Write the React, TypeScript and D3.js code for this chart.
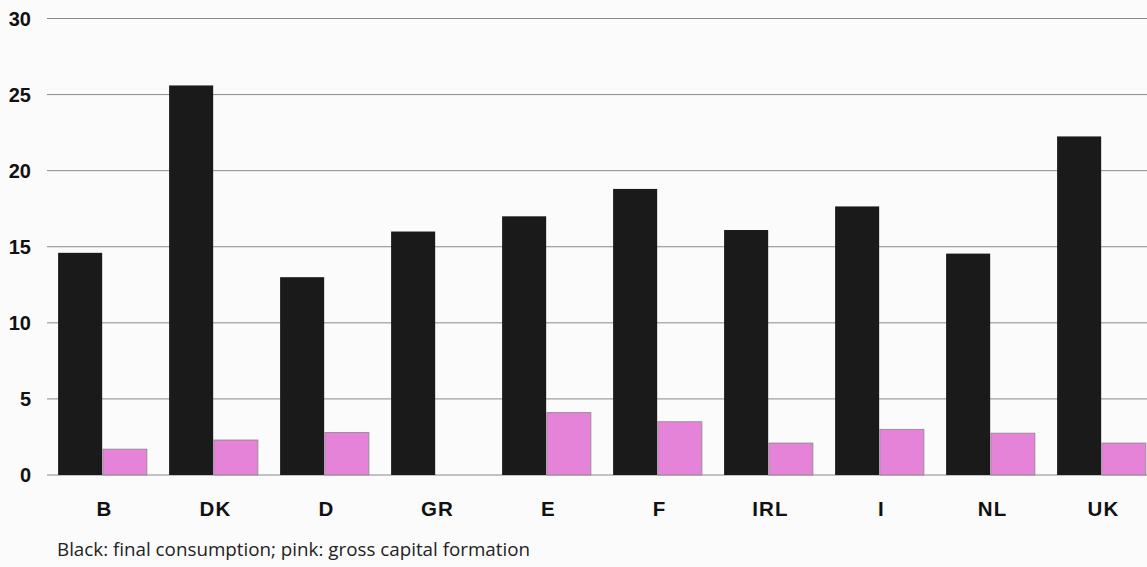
import React from "react";
import * as d3 from "d3";

const categories = ["B", "DK", "D", "GR", "E", "F", "IRL", "I", "NL", "UK"];
const finalConsumption = [14.6, 25.6, 13.0, 16.0, 17.0, 18.8, 16.1, 17.65, 14.55, 22.25];
const grossCapital = [1.7, 2.3, 2.8, 0, 4.1, 3.5, 2.1, 3.0, 2.75, 2.1];
const yTicks = [0, 5, 10, 15, 20, 25, 30];
const caption = "Black: final consumption; pink: gross capital formation";

const W = 1147;
const H = 567;

export default function App() {
  const x = d3.scaleBand<string>().domain(categories).range([47, 1157]).paddingInner(0.2).paddingOuter(0.1);
  const inner = d3.scaleBand<string>().domain(["black", "pink"]).range([0, x.bandwidth()]).paddingInner(0.015);
  const y = d3.scaleLinear().domain([0, 30]).range([475, 18.5]);

  return (
    <svg width={W} height={H} style={{ position: "absolute", left: 0, top: 0 }} fontFamily="Liberation Sans, Arial, sans-serif">
      <rect x={0} y={0} width={W} height={H} fill="#fbfbfb" />
      {yTicks.map((t) => (
        <g key={t}>
          <line x1={47} x2={W} y1={y(t)} y2={y(t)} stroke="#8a8a8a" strokeWidth={1} />
          <text x={31} y={y(t)} dy="0.36em" textAnchor="end" fontSize={20} fontWeight="bold" fill="#111">
            {t}
          </text>
        </g>
      ))}
      {categories.map((c, i) => {
        const x0 = x(c) as number;
        return (
          <g key={c}>
            <rect x={x0 + (inner("black") as number)} y={y(finalConsumption[i])} width={inner.bandwidth()} height={y(0) - y(finalConsumption[i])} fill="#1a1a1a" />
            {grossCapital[i] > 0 && (
              <rect x={x0 + (inner("pink") as number)} y={y(grossCapital[i])} width={inner.bandwidth()} height={y(0) - y(grossCapital[i])} fill="#e583d8" stroke="#888" strokeWidth={0.8} />
            )}
            <text x={x0 + x.bandwidth() / 2 + 2} y={509} dy="0.36em" textAnchor="middle" fontSize={20.5} fontWeight="bold" letterSpacing={1.2} fill="#111">
              {c}
            </text>
          </g>
        );
      })}
      <text x={57} y={556} fontSize={18.8} fontFamily="Open Sans, sans-serif" fill="#222">
        {caption}
      </text>
    </svg>
  );
}
